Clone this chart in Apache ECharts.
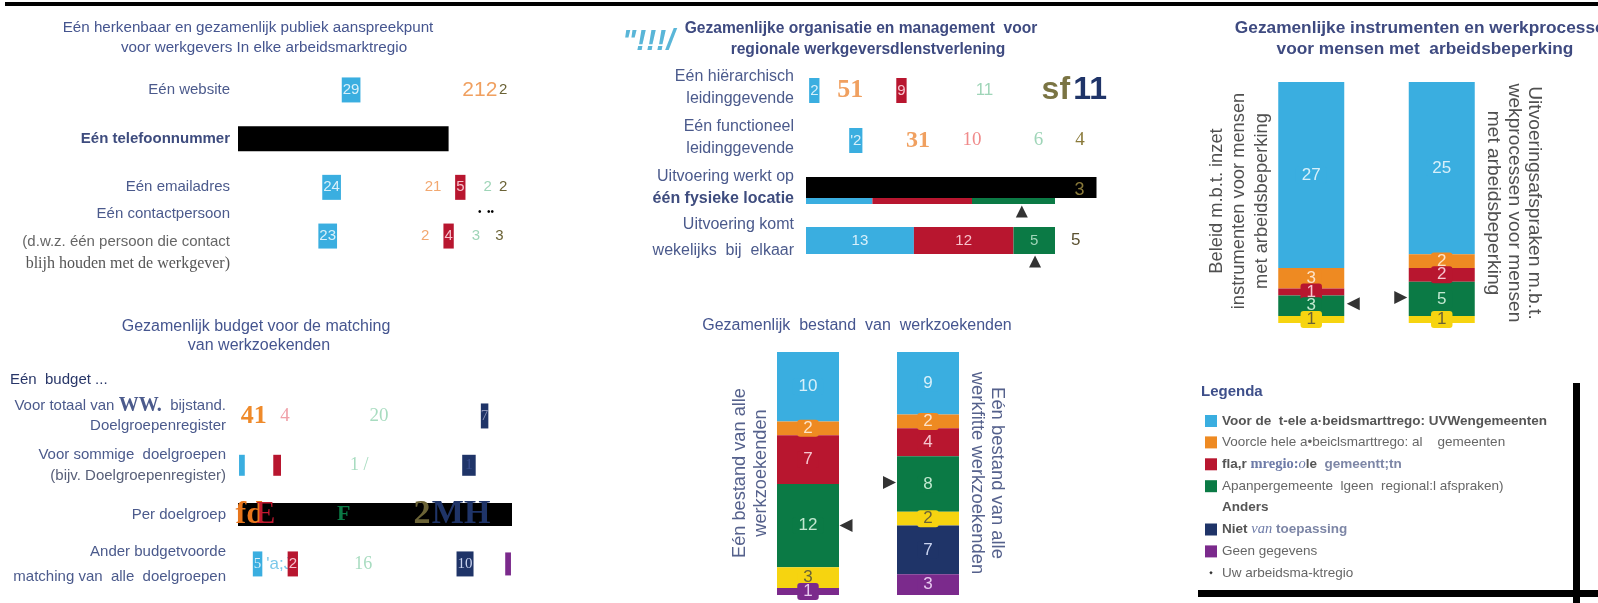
<!DOCTYPE html>
<html>
<head>
<meta charset="utf-8">
<script src="https://cdn.jsdelivr.net/npm/echarts@6/dist/echarts.min.js"></script>
<style>
  html, body { margin: 0; padding: 0; background: #fff; }
  #chart { width: 1598px; height: 603px; }
</style>
</head>
<body>
<div id="chart"></div>
<script>
var sans = '"Liberation Sans", Arial, sans-serif';
var serif = '"Liberation Serif", "Times New Roman", serif';

// legenda / series
var serieNamen = [
  'Voor de  t-ele a·beidsmarttrego: UVWengemeenten',
  'Voorcle hele a•beiclsmarttrego: al    gemeenten',
  'fla,r mregio:ole  gemeentt;tn',
  'Apanpergemeente  lgeen  regional:l afspraken)',
  'Anders',
  'Niet van toepassing',
  'Geen gegevens'
];
var regioNaam = 'Uw arbeidsma-ktregio';
var kleuren = ['#3aaee0', '#ee8a22', '#b8162f', '#0b7a45', '#f6d410', '#1f3468', '#7b2a8c'];

// 1. aanspreekpunt
var aanspreekRijen = ['Eén website', 'Eén telefoonnummer', 'Eén emailadres',
  'Eén contactpersoon\n(d.w.z. één persoon die contact\nblijh houden met de werkgever)'];
var aanspreekWaarden = [
  [29, 4, 0, 0, 2, 0, 0],
  [0, 0, 0, 0, 0, 0, 0],
  [24, 2, 5, 2, 2, 0, 0],
  [23, 2, 4, 3, 3, 0, 0]
];
var aanspreekZwart = [0, 27, 0, 0];
var aanspreekTekst = [[0, 1, '212'], [2, 1, '21']];

// 2. organisatie en management
var organisatieRijen = ['Eén hiërarchisch\nleidinggevende', 'Eén functioneel\nleidinggevende',
  'Uitvoering werkt op\néén fysieke locatie', 'Uitvoering komt\nwekelijks  bij  elkaar'];
var organisatieWaarden = [
  [2, 5, 9, 11, 5, 3, 0],
  [12, 3, 10, 6, 4, 0, 0],
  [8, 0, 12, 10, 3, 2, 0],
  [13, 0, 12, 5, 5, 0, 0]
];
var organisatieZwart = [0, 0, 35, 0];
var organisatieRegio = [null, null, 26, 27.6];
var organisatieTekst = [[0, 1, '51'], [0, 4, 'sf'], [0, 5, '11'], [1, 0, "'2"], [1, 1, '31'],
  [2, 0, ''], [2, 2, ''], [2, 3, ''], [2, 5, '']];

// 3. budget
var budgetRijen = ['Voor totaal van WW.  bijstand.\nDoelgroepenregister',
  'Voor sommige  doelgroepen\n(bijv. Doelgroepenregister)', 'Per doelgroep',
  'Ander budgetvoorde\nmatching van  alle  doelgroepen'];
var budgetWaarden = [
  [0, 4, 4, 20, 0, 7, 0],
  [1, 2, 4, 17, 0, 11, 0],
  [0, 3, 1, 19, 1, 9, 2],
  [5, 1, 2, 16, 0, 10, 1]
];
var budgetZwart = [0, 0, 35, 0];
var budgetTekst = [[0, 1, '41'], [1, 0, ' '], [1, 1, ''], [1, 2, ' '], [1, 3, '1 /'], [1, 5, '1'],
  [2, 1, 'fd'], [2, 2, 'E'], [2, 3, 'F'], [2, 4, '2'], [2, 5, 'MH'], [2, 6, ''],
  [3, 1, "'a;Ji"], [3, 6, ' ']];

// 4. arbeidsbeperking
var beperkingNamen = ['Beleid m.b.t. inzet\ninstrumenten voor mensen\nmet arbeidsbeperking',
  'Uitvoeringsafspraken m.b.t.\nwekprocessen voor mensen\nmet arbeidsbeperking'];
var beperkingWaarden = [[27, 3, 1, 3, 1, 0, 0], [25, 2, 2, 5, 1, 0, 0]];
var beperkingRegio = [32.2, 31.3];

// 5. bestand
var bestandNamen = ['Eén bestand van alle\nwerkzoekenden', 'Eén bestand van alle\nwerkfitte werkzoekenden'];
var bestandWaarden = [[10, 2, 7, 12, 3, 0, 1], [9, 2, 4, 8, 2, 7, 3]];
var bestandRegio = [25, 18.8];

// ---- stijlen ----
var hLabelKleur = ['#d8f0fa', '#f2a870', '#f6c2cc', '#9fd5b8', '#6b6336', '#3b4f8f', '#e3c6ea'];
var hLabelAchter = ['#3aaee0', 'transparent', '#b8162f', 'transparent', 'transparent', '#1f3468', '#7b2a8c'];
var vLabelKleur = ['#d8f0fa', '#fde3c8', '#f6c6cf', '#c2e8d0', '#6b6336', '#c9d3ef', '#e7c9ee'];

var aanspreekStijl = {
  '0-1': { fontSize: 21, color: '#f0a060' }
};
var organisatieStijl = {
  '0-1': { fontSize: 26, fontWeight: 'bold', fontFamily: serif, color: '#f0a060', padding: [0, 0, 0, 14] },
  '0-3': { fontSize: 17 },
  '0-4': { fontSize: 32, fontWeight: 'bold', color: '#7a7443', padding: [0, 0, 0, 10] },
  '0-5': { fontSize: 32, fontWeight: 'bold', color: '#1f3468', backgroundColor: 'transparent', padding: [0, 0, 0, 12] },
  '1-1': { fontSize: 24, fontWeight: 'bold', fontFamily: serif, color: '#f0a060' },
  '1-2': { fontSize: 19, fontFamily: serif, color: '#f08a8a', backgroundColor: 'transparent' },
  '1-3': { fontSize: 19, fontFamily: serif },
  '1-4': { fontSize: 19, fontFamily: serif, color: '#8a7a3a' },
  '2-4': { color: '#8a7a3a', fontSize: 18, padding: [0, 0, 0, 24] },
  '3-4': { color: '#5a5030', fontSize: 17 }
};
var budgetStijl = {
  '0-1': { fontSize: 26, fontWeight: 'bold', color: '#ef8a2a' },
  '0-2': { fontSize: 19, color: '#f0a0a8', backgroundColor: 'transparent' },
  '0-3': { fontSize: 19, color: '#a8dcc0' },
  '0-5': { color: '#8c94b8', padding: [5, 0] },
  '1-0': { padding: [3, 1] },
  '1-2': { padding: [3, 2] },
  '1-3': { fontSize: 18, color: '#a8dcc0' },
  '1-5': { color: '#3a4f90', padding: [3, 3] },
  '2-1': { fontSize: 32, fontWeight: 'bold', color: '#e8761c' },
  '2-2': { fontSize: 32, color: '#c0182f', backgroundColor: 'transparent' },
  '2-3': { fontSize: 22, fontWeight: 'bold', color: '#0b7a45', padding: [10, 0, 0, 0] },
  '2-4': { fontSize: 34, fontWeight: 'bold', color: '#6b6336' },
  '2-5': { fontSize: 34, fontWeight: 'bold', color: '#1f3468', backgroundColor: 'transparent' },
  '3-1': { fontSize: 17, fontFamily: sans, color: '#7bc8ea' },
  '3-2': { fontFamily: sans },
  '3-3': { fontSize: 18, color: '#a8dcc0' },
  '3-5': { color: '#c9d3ef' },
  '3-6': { padding: [4, 1] }
};

var rich = {
  n: { fontSize: 15, color: '#4b5a8c', fontFamily: sans, lineHeight: 21 },
  b: { fontSize: 15, color: '#3e4c7e', fontWeight: 'bold', fontFamily: sans, lineHeight: 21 },
  c: { fontSize: 15, color: '#4b5a8c', fontFamily: sans, lineHeight: 34 },
  g: { fontSize: 15, color: '#666', fontFamily: sans, lineHeight: 22 },
  s: { fontSize: 16, color: '#555', fontFamily: serif, lineHeight: 22 },
  m: { fontSize: 16, color: '#4b5a8c', fontFamily: sans, lineHeight: 22 },
  mb: { fontSize: 16, color: '#3e4c7e', fontWeight: 'bold', fontFamily: sans, lineHeight: 22 },
  w: { fontSize: 16, color: '#4b5a8c', fontFamily: sans, lineHeight: 26 },
  t: { fontSize: 15, color: '#4b5a8c', fontFamily: sans, lineHeight: 20 },
  q: { fontSize: 15, color: '#596079', fontFamily: sans, lineHeight: 21 },
  v: { fontSize: 15, color: '#4b5a8c', fontFamily: sans, lineHeight: 25 },
  ww: { fontSize: 20, fontFamily: serif, fontWeight: 'bold', color: '#4b5a8c' }
};
var aanspreekLijnen = [['n'], ['b'], ['n'], ['c', 'g', 's']];
var organisatieLijnen = [['m', 'm'], ['m', 'm'], ['m', 'mb'], ['w', 'w']];
var budgetLijnen = [['t', 't'], ['n', 'q'], ['n'], ['v', 'v']];

function rijLabel(lijnen) {
  return function (waarde, idx) {
    return waarde.split('\n').map(function (regel, j) {
      var st = lijnen[idx][j];
      regel = regel.replace('WW.', '}{ww|WW.}{' + st + '|');
      return '{' + st + '|' + regel + '}';
    }).join('\n');
  };
}

var grids = [
  { left: 238, top: 65.6, width: 273, height: 194.8 },
  { left: 806, top: 62.5, width: 290.5, height: 200 },
  { left: 238, top: 391.3, width: 274, height: 197.3 },
  { left: 1246, top: 82, width: 261, height: 241 },
  { left: 748, top: 352, width: 240, height: 243 }
];
var xAxes = [], yAxes = [], series = [];
var verborgen = { axisLine: { show: false }, axisTick: { show: false }, splitLine: { show: false } };

function horizontaal(g, rijen, waarden, zwart, tekst, stijl, lijnen, gevuld, barW, zwartW, font, marge) {
  xAxes.push(Object.assign({ type: 'value', gridIndex: g, min: 0, max: 35, axisLabel: { show: false } }, verborgen));
  yAxes.push(Object.assign({
    type: 'category', gridIndex: g, inverse: true, data: rijen,
    axisLabel: { margin: marge, align: 'right', formatter: rijLabel(lijnen), rich: rich }
  }, verborgen));
  serieNamen.forEach(function (naam, s) {
    series.push({
      type: 'bar', name: naam, stack: 'h' + g, xAxisIndex: g, yAxisIndex: g,
      barWidth: barW, barGap: '-100%', color: kleuren[s],
      label: {
        show: true, position: 'inside', color: hLabelKleur[s], fontSize: 15, fontFamily: font,
        backgroundColor: hLabelAchter[s], padding: hLabelAchter[s] === 'transparent' ? 0 : [5, 1],
        textBorderWidth: 0
      },
      data: waarden.map(function (rij, r) {
        var label = {};
        tekst.forEach(function (t) {
          if (t[0] === r && t[1] === s) {
            if (t[2] === '') label.show = false; else label.formatter = t[2];
          }
        });
        if (stijl[r + '-' + s]) Object.assign(label, stijl[r + '-' + s]);
        return {
          value: rij[s] || '-',
          itemStyle: { color: gevuld[r] && s < 4 ? kleuren[s] : 'rgba(0,0,0,0)' },
          label: label
        };
      })
    });
  });
  series.push({
    type: 'bar', name: 'zwart', stack: 'z' + g, xAxisIndex: g, yAxisIndex: g,
    barWidth: zwartW, barGap: '-100%', itemStyle: { color: '#000' }, silent: true,
    data: zwart.map(function (v) { return v || '-'; })
  });
}

function verticaal(g, namen, waarden, regio, barW, pijl) {
  xAxes.push(Object.assign({ type: 'category', gridIndex: g, data: namen, axisLabel: { show: false } }, verborgen));
  yAxes.push(Object.assign({ type: 'value', gridIndex: g, inverse: true, min: 0, max: 35, axisLabel: { show: false } }, verborgen));
  serieNamen.forEach(function (naam, s) {
    series.push({
      type: 'bar', name: naam, stack: 'v' + g, xAxisIndex: g, yAxisIndex: g,
      barWidth: barW, color: kleuren[s],
      label: {
        show: true, position: 'inside', color: vLabelKleur[s], fontSize: 17, fontFamily: sans,
        backgroundColor: kleuren[s], padding: [0, 6], borderRadius: 3, textBorderWidth: 0
      },
      data: waarden.map(function (rij) { return rij[s] || '-'; })
    });
  });
  series.push({
    type: 'scatter', name: regioNaam, xAxisIndex: g, yAxisIndex: g, z: 5,
    symbol: 'triangle', symbolSize: 13, itemStyle: { color: '#000' },
    data: regio.map(function (v, i) {
      return { value: [i, v], symbolRotate: i === 0 ? 90 : -90, symbolOffset: [i === 0 ? pijl[0] : pijl[1], 0] };
    })
  });
}

horizontaal(0, aanspreekRijen, aanspreekWaarden, aanspreekZwart, aanspreekTekst, aanspreekStijl,
  aanspreekLijnen, [false, false, false, false], 25, 25, sans, 8);
horizontaal(1, organisatieRijen, organisatieWaarden, organisatieZwart, organisatieTekst, organisatieStijl,
  organisatieLijnen, [false, false, true, true], 27, 21, sans, 12);
horizontaal(2, budgetRijen, budgetWaarden, budgetZwart, budgetTekst, budgetStijl,
  budgetLijnen, [false, false, false, false], 23, 23, serif, 12);
verticaal(3, beperkingNamen, beperkingWaarden, beperkingRegio, 66, [42, -41]);
verticaal(4, bestandNamen, bestandWaarden, bestandRegio, 62, [38, -38.5]);

series.push({
  type: 'scatter', name: regioNaam, xAxisIndex: 1, yAxisIndex: 1, z: 5,
  symbol: 'triangle', symbolSize: 12, symbolOffset: [0, 24], itemStyle: { color: '#000' },
  data: organisatieRegio.map(function (v, r) { return v == null ? null : [v, r]; }).filter(Boolean)
});

function tekst(x, y, t, extra) {
  return {
    type: 'text', x: x, y: y, silent: true,
    style: Object.assign({ text: t, fill: '#45558f', fontSize: 16, fontFamily: sans,
      textAlign: 'center', textVerticalAlign: 'middle' }, extra || {})
  };
}
function gedraaid(x, y, t, rot, fs, lh, kleur) {
  var el = tekst(x, y, t, { fontSize: fs, lineHeight: lh, fill: kleur });
  el.rotation = rot;
  return el;
}

var legendaRich = {
  b: { fontWeight: 'bold', color: '#555', fontSize: 13.5 },
  sv: { fontFamily: serif, fontWeight: 'bold', color: '#6d7ba8', fontSize: 14.5 },
  si: { fontFamily: serif, fontStyle: 'italic', color: '#6d7ba8', fontSize: 14.5 },
  bb: { fontWeight: 'bold', color: '#7d86a6', fontSize: 13.5 }
};

var option = {
  animation: false,
  textStyle: { fontFamily: sans },
  grid: grids,
  xAxis: xAxes,
  yAxis: yAxes,
  series: series,
  legend: {
    orient: 'vertical', left: 1200, top: 409, itemWidth: 12, itemHeight: 12, itemGap: 7.4,
    icon: 'rect', selectedMode: false,
    textStyle: { color: '#666', fontSize: 13.5, fontFamily: sans, rich: legendaRich },
    formatter: function (naam) {
      if (naam === serieNamen[2]) return '{b|fla,r }{sv|mregio:}{si|o}{b|le}{bb|  gemeentt;tn}';
      if (naam === serieNamen[5]) return '{b|Niet }{si|van}{bb| toepassing}';
      return naam;
    },
    data: [
      { name: serieNamen[0], textStyle: { fontWeight: 'bold', color: '#555' } },
      { name: serieNamen[1] },
      { name: serieNamen[2] },
      { name: serieNamen[3] },
      { name: serieNamen[4], icon: 'none', textStyle: { fontWeight: 'bold', color: '#555' } },
      { name: serieNamen[5] },
      { name: serieNamen[6] },
      { name: regioNaam, icon: 'path://M0,0M12,12M4.3,6L6,4.3L7.7,6L6,7.7Z' }
    ]
  },
  graphic: [
    { type: 'rect', silent: true, shape: { x: 5, y: 2, width: 1593, height: 4 }, style: { fill: '#000' } },
    { type: 'rect', silent: true, shape: { x: 1573, y: 383, width: 7, height: 220 }, style: { fill: '#000' } },
    { type: 'rect', silent: true, shape: { x: 1198, y: 590, width: 400, height: 7 }, style: { fill: '#000' } },
    tekst(248, 28, 'Eén herkenbaar en gezamenlijk publiek aanspreekpunt', { fontSize: 15.2 }),
    tekst(264, 48, 'voor werkgevers In elke arbeidsmarktregio', { fontSize: 15.2 }),
    tekst(861, 29, 'Gezamenlijke organisatie en management  voor', { fontSize: 15.6, fontWeight: 'bold', fill: '#3e4a80' }),
    tekst(868, 50, 'regionale werkgeversdlenstverlening', { fontSize: 15.6, fontWeight: 'bold', fill: '#3e4a80' }),
    tekst(1425, 28, 'Gezamenlijke instrumenten en werkprocessen', { fontSize: 17.3, fontWeight: 'bold', fill: '#3e4a80' }),
    tekst(1425, 49, 'voor mensen met  arbeidsbeperking', { fontSize: 17.3, fontWeight: 'bold', fill: '#3e4a80' }),
    tekst(256, 327, 'Gezamenlijk budget voor de matching'),
    tekst(259, 346, 'van werkzoekenden'),
    tekst(857, 326, 'Gezamenlijk  bestand  van  werkzoekenden'),
    tekst(622, 42, '"!!!/', { textAlign: 'left', fontSize: 30, fontWeight: 'bold', fontStyle: 'italic', fill: '#5ab6d8' }),
    tekst(10, 380, 'Eén  budget ...', { textAlign: 'left', fontSize: 15, fill: '#283668' }),
    tekst(478, 212, '•  ••', { textAlign: 'left', fontSize: 10, fill: '#000' }),
    tekst(1201, 392, 'Legenda', { textAlign: 'left', fontSize: 15, fontWeight: 'bold', fill: '#3e4f8a' }),
    gedraaid(1239, 201, beperkingNamen[0], Math.PI / 2, 18.3, 22.5, '#505050'),
    gedraaid(1514, 203, beperkingNamen[1], -Math.PI / 2, 19.2, 20.5, '#505050'),
    gedraaid(750, 473, bestandNamen[0], Math.PI / 2, 18.2, 21, '#55618c'),
    gedraaid(987, 473, bestandNamen[1], -Math.PI / 2, 18.4, 20, '#55618c')
  ]
};

var chart = echarts.init(document.getElementById('chart'));
chart.setOption(option);
window.onresize = chart.resize;
</script>
</body>
</html>
